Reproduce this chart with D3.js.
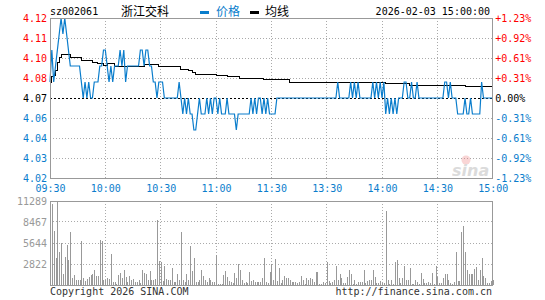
<!DOCTYPE html>
<html>
<head>
<meta charset="utf-8">
<script src="https://cdn.jsdelivr.net/npm/d3@7"></script>
<style>
  body { margin: 0; background: #fff; }
  svg { display: block; }
</style>
</head>
<body>
<svg class="min-chart" width="545" height="300"></svg>
<script>
const prevClose = 4.07;

const timeTicks = [0, 30, 60, 90, 120, 150, 180, 210, 240];
const timeLabels = ["09:30", "10:00", "10:30", "11:00", "11:30", "13:30", "14:00", "14:30", "15:00"];

const priceTicks = [4.12, 4.1075, 4.095, 4.0825, 4.07, 4.0575, 4.045, 4.0325, 4.02];
const priceLabels = ["4.12", "4.11", "4.10", "4.08", "4.07", "4.06", "4.04", "4.03", "4.02"];
const pctLabels = ["+1.23%", "+0.92%", "+0.61%", "+0.31%", "0.00%", "-0.31%", "-0.61%", "-0.92%", "-1.23%"];

const volTicks = [11289, 8467, 5644, 2822];

// one value per minute, 09:30 .. 11:30, 13:01 .. 15:00
const price = [
  4.08,4.10,4.08,4.09,4.10,4.11,4.12,4.11,4.12,4.11,
  4.10,4.09,4.09,4.09,4.09,4.09,4.09,4.08,4.07,4.08,
  4.07,4.08,4.07,4.07,4.08,4.08,4.08,4.09,4.09,4.10,
  4.10,4.09,4.08,4.09,4.08,4.09,4.09,4.09,4.10,4.09,
  4.10,4.08,4.09,4.09,4.09,4.09,4.09,4.09,4.09,4.10,
  4.10,4.09,4.10,4.10,4.09,4.09,4.08,4.08,4.07,4.08,
  4.08,4.08,4.07,4.07,4.07,4.07,4.07,4.07,4.07,4.07,
  4.08,4.07,4.06,4.07,4.06,4.07,4.06,4.06,4.05,4.05,
  4.06,4.07,4.06,4.06,4.06,4.07,4.06,4.07,4.06,4.07,
  4.07,4.06,4.07,4.06,4.06,4.06,4.07,4.06,4.06,4.06,
  4.06,4.05,4.06,4.06,4.06,4.06,4.06,4.06,4.06,4.07,
  4.06,4.07,4.06,4.07,4.07,4.06,4.07,4.06,4.07,4.06,
  4.06,4.06,4.06,4.07,4.07,4.07,4.07,4.07,4.07,4.07,
  4.07,4.07,4.07,4.07,4.07,4.07,4.07,4.07,4.07,4.07,
  4.07,4.07,4.07,4.07,4.07,4.07,4.07,4.07,4.07,4.07,
  4.07,4.07,4.07,4.07,4.07,4.07,4.08,4.07,4.07,4.07,
  4.07,4.07,4.07,4.08,4.07,4.08,4.07,4.08,4.07,4.07,
  4.07,4.07,4.07,4.07,4.07,4.08,4.07,4.08,4.07,4.08,
  4.07,4.08,4.06,4.07,4.06,4.07,4.06,4.07,4.06,4.07,
  4.07,4.07,4.08,4.08,4.07,4.07,4.08,4.07,4.07,4.08,
  4.07,4.07,4.07,4.07,4.07,4.07,4.07,4.07,4.07,4.07,
  4.07,4.07,4.07,4.07,4.08,4.08,4.07,4.08,4.07,4.07,
  4.07,4.06,4.06,4.06,4.06,4.07,4.06,4.06,4.07,4.06,
  4.06,4.06,4.06,4.06,4.08,4.07,4.07,4.07,4.07,4.07,4.07
];

// average price line, [minute, value] where it changes
const avgSteps = [
  [0, 4.0800], [1, 4.0835], [2, 4.0840], [3, 4.0870], [4, 4.0925], [5, 4.0955],
  [6, 4.0975], [11, 4.0954], [17, 4.0933], [23, 4.0923], [26, 4.0913], [29, 4.0902],
  [31, 4.0913], [35, 4.0898], [51, 4.0908], [59, 4.0898], [71, 4.0881], [75, 4.0871],
  [77, 4.0860], [79, 4.0850], [90, 4.0840], [96, 4.0833], [103, 4.0825], [116, 4.0813],
  [130, 4.0799], [182, 4.0792], [195, 4.0780], [225, 4.0774], [240, 4.0774]
];

const volume = [
  4194,10887,7228,3659,11289,4462,5667,1428,3793,5399,
  3302,7139,982,1383,714,714,625,5979,982,535,
  848,1071,1294,1428,2053,1160,1160,6068,5979,625,
  714,892,803,4194,446,446,178,1383,1651,892,
  1963,1071,357,1249,625,848,357,357,714,268,
  2053,1651,1517,625,1829,625,625,803,8746,3213,
  3034,535,2588,759,714,714,2231,446,446,1517,
  714,7139,714,446,1428,714,5265,1874,3570,357,
  357,714,1963,1249,625,357,982,714,357,446,
  4016,178,178,178,1339,1874,1071,535,357,268,
  1606,892,2766,1963,625,268,357,268,1785,535,
  714,446,446,446,446,892,3659,446,268,1785,
  2856,625,3480,535,2320,268,625,1160,982,982,
  714,446,446,446,268,357,1249,625,178,982,
  714,892,803,357,1696,1696,178,178,357,268,
  3123,535,268,446,714,2588,625,1428,892,268,
  268,1071,2053,1517,178,714,178,446,357,357,
  2053,268,535,625,714,2053,1071,268,268,535,
  268,268,9995,625,178,625,178,3123,3391,892,
  268,892,2588,714,714,2231,178,178,625,446,
  178,1606,803,268,268,446,268,1606,178,2588,
  1071,268,268,892,1517,1517,714,268,178,446,
  4462,535,535,7139,7942,4373,2053,1428,1517,1428,
  2142,2409,714,2053,3659,1249,982,268,268,535,
  714
];

const blue = "#0a7dcc";
const red = "#ff0000";
const gray = "#999";
const mono = "'DejaVu Sans Mono', monospace";
const cjk = "'Noto Sans CJK SC', sans-serif";

const svg = d3.select("svg.min-chart");

const left = 50, right = 492.7;
const x = d3.scaleLinear().domain([0, 240]).range([left, right]);
const y = d3.scaleLinear().domain([4.02, 4.12]).range([178, 18]);
const yv = d3.scaleLinear().domain([0, 11289]).range([285, 201]);

const labelColor = i => i < 4 ? red : (i === 4 ? "#000" : blue);

// grid
const grid = svg.append("g")
    .attr("stroke", "#aaa")
    .attr("stroke-dasharray", "1,2")
    .attr("shape-rendering", "crispEdges");

grid.selectAll(".hp")
    .data(priceTicks.filter((d, i) => i > 0 && i < 8 && i !== 4))
  .enter().append("line")
    .attr("x1", left).attr("x2", right)
    .attr("y1", d => y(d)).attr("y2", d => y(d));

grid.selectAll(".hv")
    .data(volTicks.slice(1))
  .enter().append("line")
    .attr("x1", left).attr("x2", right)
    .attr("y1", d => yv(d)).attr("y2", d => yv(d));

[[18, 178], [201, 285]].forEach(([t, b]) => {
    grid.append("g").selectAll("line")
        .data(timeTicks.slice(1, -1))
      .enter().append("line")
        .attr("x1", d => x(d)).attr("x2", d => x(d))
        .attr("y1", t).attr("y2", b);
});

// previous close
svg.append("line")
    .attr("x1", left).attr("x2", right)
    .attr("y1", y(prevClose)).attr("y2", y(prevClose))
    .attr("stroke", "#000")
    .attr("stroke-dasharray", "2,2")
    .attr("shape-rendering", "crispEdges");

// watermark
const wm = svg.append("g").attr("opacity", 0.35);
wm.append("circle").attr("cx", 466).attr("cy", 160).attr("r", 4.5).attr("fill", "#e88");
wm.append("text")
    .attr("x", 452).attr("y", 176)
    .attr("font-family", "'DejaVu Sans', sans-serif")
    .attr("font-size", 16).attr("font-weight", "bold").attr("font-style", "italic")
    .attr("fill", "#999")
    .text("sina");

// volume bars
svg.append("g")
    .attr("fill", gray)
    .attr("shape-rendering", "crispEdges")
  .selectAll("rect")
    .data(volume)
  .enter().append("rect")
    .attr("x", (d, i) => x(i))
    .attr("width", 1)
    .attr("y", d => yv(d))
    .attr("height", d => yv(0) - yv(d));

// average line
const avgLine = d3.line()
    .curve(d3.curveStepAfter)
    .x(d => x(d[0]))
    .y(d => y(d[1]));

svg.append("path")
    .datum(avgSteps)
    .attr("fill", "none")
    .attr("stroke", "#000")
    .attr("stroke-width", 1)
    .attr("shape-rendering", "crispEdges")
    .attr("d", avgLine);

// price line
const priceLine = d3.line()
    .x((d, i) => x(i))
    .y(d => y(d));

svg.append("path")
    .datum(price)
    .attr("fill", "none")
    .attr("stroke", blue)
    .attr("stroke-width", 1.2)
    .attr("d", priceLine);

// frames
[[18, 178], [201, 285]].forEach(([t, b]) => {
    svg.append("rect")
        .attr("x", left).attr("y", t)
        .attr("width", right - left).attr("height", b - t)
        .attr("fill", "none")
        .attr("stroke", gray)
        .attr("shape-rendering", "crispEdges");
});

// axes (labels only)
function styleAxis(g) {
    g.select(".domain").remove();
    g.attr("font-family", mono).attr("font-size", 10);
}

svg.append("g")
    .attr("transform", `translate(${left},0)`)
    .call(d3.axisLeft(y).tickValues(priceTicks).tickSize(0).tickPadding(3)
        .tickFormat((d, i) => priceLabels[i]))
    .call(styleAxis)
    .selectAll("text").attr("fill", (d, i) => labelColor(i));

svg.append("g")
    .attr("transform", `translate(${right},0)`)
    .call(d3.axisRight(y).tickValues(priceTicks).tickSize(0).tickPadding(2.5)
        .tickFormat((d, i) => pctLabels[i]))
    .call(styleAxis)
    .selectAll("text").attr("fill", (d, i) => labelColor(i));

svg.append("g")
    .attr("transform", "translate(0,178)")
    .call(d3.axisBottom(x).tickValues(timeTicks).tickSize(0).tickPadding(7)
        .tickFormat((d, i) => timeLabels[i]))
    .call(styleAxis)
    .selectAll("text").attr("fill", blue);

svg.append("g")
    .attr("transform", `translate(${left},0)`)
    .call(d3.axisLeft(yv).tickValues(volTicks).tickSize(0).tickPadding(3)
        .tickFormat(d3.format("d")))
    .call(styleAxis)
    .selectAll("text").attr("fill", gray);

// header
svg.append("text")
    .attr("x", 50).attr("y", 15)
    .attr("font-family", mono).attr("font-size", 10)
    .text("sz002061");

svg.append("text")
    .attr("x", 121).attr("y", 16)
    .attr("font-family", cjk).attr("font-size", 12)
    .text("浙江交科");

svg.append("rect").attr("x", 200).attr("y", 11).attr("width", 9).attr("height", 3).attr("fill", blue);
svg.append("text")
    .attr("x", 216).attr("y", 16)
    .attr("font-family", cjk).attr("font-size", 12)
    .attr("fill", blue)
    .text("价格");

svg.append("rect").attr("x", 250).attr("y", 11).attr("width", 9).attr("height", 3).attr("fill", "#000");
svg.append("text")
    .attr("x", 265).attr("y", 16)
    .attr("font-family", cjk).attr("font-size", 12)
    .text("均线");

svg.append("text")
    .attr("x", 490).attr("y", 15)
    .attr("text-anchor", "end")
    .attr("font-family", mono).attr("font-size", 10)
    .text("2026-02-03 15:00:00");

// footer
svg.append("text")
    .attr("x", 50).attr("y", 295)
    .attr("font-family", mono).attr("font-size", 10)
    .attr("fill", "#333")
    .text("Copyright 2026 SINA.COM");

svg.append("text")
    .attr("x", 492).attr("y", 295)
    .attr("text-anchor", "end")
    .attr("font-family", mono).attr("font-size", 10)
    .attr("fill", "#333")
    .text("http://finance.sina.com.cn");
</script>
</body>
</html>
